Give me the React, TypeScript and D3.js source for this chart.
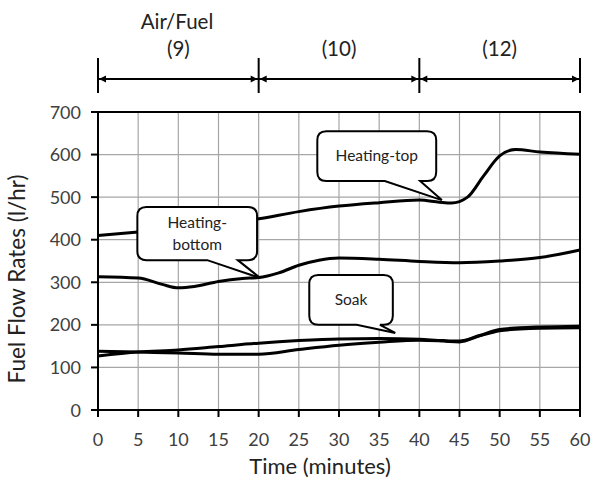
import React from "react";
import * as d3 from "d3";

const W = 593;
const H = 486;

const xTicks = [0, 5, 10, 15, 20, 25, 30, 35, 40, 45, 50, 55, 60];
const yTicks = [0, 100, 200, 300, 400, 500, 600, 700];

const heatingTopT = [0, 5, 10, 15, 20, 25, 30, 35, 40, 42.5, 44, 46, 48, 50, 52, 55, 60];
const heatingTopV = [410, 418, 426, 436, 449, 466, 479, 487, 493, 488, 486, 500, 550, 597, 612, 606, 601];

const heatingBottomT = [0, 5, 8, 10, 12, 15, 18, 20, 22.5, 25, 27.5, 30, 35, 40, 45, 50, 55, 60];
const heatingBottomV = [313, 310, 295, 287, 290, 302, 309, 311, 322, 340, 352, 357, 354, 349, 346, 350, 358, 376];

const soakT = [0, 5, 10, 15, 20, 25, 30, 35, 40, 43, 45, 47.5, 50, 52.5, 55, 60];
const soakV = [127, 136, 141, 149, 157, 163, 167, 168, 166, 163, 162, 175, 189, 193, 195, 197];

const otherT = [0, 5, 10, 15, 20, 25, 30, 35, 40, 43, 45, 47.5, 50, 52.5, 55, 60];
const otherV = [138, 136, 134, 131, 131, 142, 152, 159, 164, 162, 160, 174, 186, 190, 192, 193];

const periodBounds = [0, 20, 40, 60];
const periodLabels = ["(9)", "(10)", "(12)"];

type Callout = {
  lines: string[];
  x0: number; x1: number; y0: number; y1: number;
  b0: number; b1: number; tipT: number; tipV: number;
};
const callouts: Callout[] = [
  { lines: ["Heating-top"], x0: 27.3, x1: 42.1, y0: 655, y1: 538, b0: 35.7, b1: 40.1, tipT: 42.8, tipV: 493 },
  { lines: ["Heating-", "bottom"], x0: 4.9, x1: 19.8, y0: 477, y1: 352, b0: 13.6, b1: 17.4, tipT: 20.2, tipV: 310 },
  { lines: ["Soak"], x0: 26.3, x1: 36.7, y0: 317, y1: 200, b0: 32.2, b1: 35.1, tipT: 37, tipV: 181 },
];

const FONT = "Lato, 'Open Sans', sans-serif";

export default function App() {
  const x = d3.scaleLinear().domain([0, 60]).range([98, 580]);
  const y = d3.scaleLinear().domain([0, 700]).range([410, 112]);

  const line = d3
    .line<[number, number]>()
    .x((d) => x(d[0]))
    .y((d) => y(d[1]))
    .curve(d3.curveMonotoneX);

  const series = [
    heatingTopT.map((t, i) => [t, heatingTopV[i]] as [number, number]),
    heatingBottomT.map((t, i) => [t, heatingBottomV[i]] as [number, number]),
    soakT.map((t, i) => [t, soakV[i]] as [number, number]),
    otherT.map((t, i) => [t, otherV[i]] as [number, number]),
  ];

  const calloutPath = (c: Callout) => {
    const X0 = x(c.x0), X1 = x(c.x1), Y0 = y(c.y0), Y1 = y(c.y1);
    const r = 9;
    return `M${X0 + r},${Y0} H${X1 - r} Q${X1},${Y0} ${X1},${Y0 + r} V${Y1 - r} Q${X1},${Y1} ${X1 - r},${Y1} H${x(c.b1)} L${x(c.tipT)},${y(c.tipV)} L${x(c.b0)},${Y1} H${X0 + r} Q${X0},${Y1} ${X0},${Y1 - r} V${Y0 + r} Q${X0},${Y0} ${X0 + r},${Y0} Z`;
  };

  const arrowY = 79;
  const arrowHead = (xp: number, dir: number) =>
    `M${xp},${arrowY} L${xp - dir * 7},${arrowY - 3.5} L${xp - dir * 7},${arrowY + 3.5} Z`;

  return (
    <svg width={W} height={H} style={{ position: "absolute", left: 0, top: 0, background: "#fff" }}>
      <rect x={0} y={0} width={W} height={H} fill="#fff" />
      {/* grid */}
      {xTicks.map((t) => (
        <line key={"gx" + t} x1={x(t)} x2={x(t)} y1={y(0)} y2={y(700)} stroke="#a6a6a6" strokeWidth={1.2} />
      ))}
      {yTicks.map((v) => (
        <line key={"gy" + v} x1={x(0)} x2={x(60)} y1={y(v)} y2={y(v)} stroke="#a6a6a6" strokeWidth={1.2} />
      ))}
      {/* border */}
      <rect x={x(0)} y={y(700)} width={x(60) - x(0)} height={y(0) - y(700)} fill="none" stroke="#000" strokeWidth={2} />
      {/* ticks */}
      {xTicks.map((t) => (
        <line key={"tx" + t} x1={x(t)} x2={x(t)} y1={y(0)} y2={y(0) + 7} stroke="#000" strokeWidth={2} />
      ))}
      {yTicks.map((v) => (
        <line key={"ty" + v} x1={x(0) - 7} x2={x(0)} y1={y(v)} y2={y(v)} stroke="#000" strokeWidth={2} />
      ))}
      {/* tick labels */}
      {xTicks.map((t) => (
        <text key={"lx" + t} x={x(t)} y={446} textAnchor="middle" fontFamily={FONT} fontSize={18} fill="#404040">
          {t}
        </text>
      ))}
      {yTicks.map((v) => (
        <text key={"ly" + v} x={81} y={y(v) + 6.5} textAnchor="end" fontFamily={FONT} fontSize={18} fill="#404040">
          {v}
        </text>
      ))}
      <text x={320} y={474} textAnchor="middle" fontFamily={FONT} fontSize={22} fill="#222">
        Time (minutes)
      </text>
      <text
        transform={`translate(25,${279}) rotate(-90)`}
        textAnchor="middle"
        fontFamily={FONT}
        fontSize={22.5}
        fill="#222"
      >
        Fuel Flow Rates (l/hr)
      </text>
      {/* series */}
      {series.map((s, i) => (
        <path key={"s" + i} d={line(s) || ""} fill="none" stroke="#000" strokeWidth={3} strokeLinejoin="round" />
      ))}
      {/* callouts */}
      {callouts.map((c, i) => {
        const cx = (x(c.x0) + x(c.x1)) / 2;
        const cy = (y(c.y0) + y(c.y1)) / 2;
        const lh = 22;
        return (
          <g key={"c" + i}>
            <path d={calloutPath(c)} fill="#fff" stroke="#000" strokeWidth={2} />
            {c.lines.map((ln, j) => (
              <text
                key={j}
                x={cx}
                y={cy + 5 + (j - (c.lines.length - 1) / 2) * lh}
                textAnchor="middle"
                fontFamily={FONT}
                fontSize={15.5}
                fill="#222"
              >
                {ln}
              </text>
            ))}
          </g>
        );
      })}
      {/* period annotation */}
      {periodBounds.map((t) => (
        <line key={"pb" + t} x1={x(t)} x2={x(t)} y1={58} y2={93} stroke="#000" strokeWidth={2} />
      ))}
      <line x1={x(0)} x2={x(60)} y1={arrowY} y2={arrowY} stroke="#000" strokeWidth={2} />
      {periodLabels.map((lab, i) => {
        const a = x(periodBounds[i]) + 1;
        const b = x(periodBounds[i + 1]) - 1;
        return (
          <g key={"pl" + i}>
            <path d={arrowHead(a, -1)} fill="#000" />
            <path d={arrowHead(b, 1)} fill="#000" />
            <text x={(a + b) / 2} y={56} textAnchor="middle" fontFamily={FONT} fontSize={20.5} fill="#222">
              {lab}
            </text>
          </g>
        );
      })}
      <text x={177} y={29} textAnchor="middle" fontFamily={FONT} fontSize={20.5} fill="#222">
        Air/Fuel
      </text>
    </svg>
  );
}
